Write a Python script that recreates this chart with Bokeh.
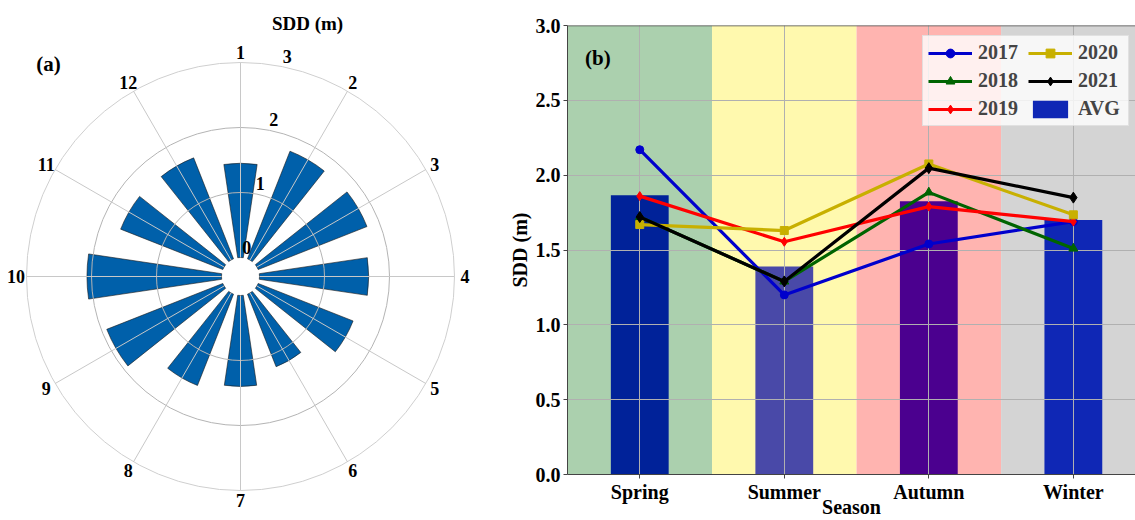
import numpy as np
from bokeh.plotting import figure
from bokeh.layouts import row
from bokeh.models import (Range1d, ColumnDataSource, FixedTicker, Legend,
                          LegendItem, Span)
from bokeh.core.properties import value
from bokeh.embed import file_html
from bokeh.resources import INLINE

# ---------------- data ----------------
months = ["1", "2", "3", "4", "5", "6", "7", "8", "9", "10", "11", "12"]
month_sdd = [1.45, 1.78, 1.80, 1.68, 1.57, 1.20, 1.40, 1.51, 1.92, 2.07, 1.69, 1.67]
r_ticks = [0, 1, 2, 3]
r_tick_labels = ["0", "1", "2", "3"]

seasons = ["Spring", "Summer", "Autumn", "Winter"]
season_colors = ["#abd0ae", "#fff9ae", "#ffb4b0", "#d4d4d4"]
avg_sdd = [1.865, 1.39, 1.825, 1.70]
avg_colors = ["#002299", "#4949a8", "#4b008f", "#0f27b5"]

years = ["2017", "2018", "2019", "2020", "2021"]
sdd_2017 = [2.17, 1.20, 1.54, 1.69]
sdd_2018 = [1.72, 1.29, 1.885, 1.51]
sdd_2019 = [1.86, 1.555, 1.79, 1.69]
sdd_2020 = [1.67, 1.63, 2.075, 1.735]
sdd_2021 = [1.72, 1.29, 2.047, 1.85]
year_series = [sdd_2017, sdd_2018, sdd_2019, sdd_2020, sdd_2021]
year_colors = ["#0000cc", "#006400", "#ff0000", "#c8b000", "#000000"]
year_markers = ["circle", "triangle", "diamond", "square", "diamond"]
year_msizes = [8, 9, 9, 8, 11]

y_ticks = [0.0, 0.5, 1.0, 1.5, 2.0, 2.5, 3.0]
y_tick_labels = ["0.0", "0.5", "1.0", "1.5", "2.0", "2.5", "3.0"]

FONT = "Liberation Serif"
H = 520

# ---------------- (a) polar bar chart ----------------
PX = 65.0            # pixels per radial unit
HOLE = 19.0 / PX     # radial origin offset
W1 = 486
cx, cy = 240.0, 276.0          # centre in pixels

p1 = figure(width=W1, height=H,
            x_range=Range1d(-cx / PX, (W1 - cx) / PX),
            y_range=Range1d(-(H - cy) / PX, cy / PX),
            output_backend="svg", toolbar_location=None,
            x_axis_location=None, y_axis_location=None, min_border=0)
p1.frame_align = False
p1.grid.visible = False
p1.outline_line_color = None
p1.background_fill_color = "white"

theta = np.pi / 2 - np.arange(len(months)) * 2 * np.pi / len(months)
half_w = 0.1475
src = ColumnDataSource(dict(start=theta - half_w, end=theta + half_w,
                            outer=HOLE + np.array(month_sdd)))
p1.annular_wedge(x=0, y=0, inner_radius=HOLE, outer_radius="outer",
                 start_angle="start", end_angle="end", source=src,
                 fill_color="#0060aa", line_color="#1a1a1a", line_width=0.6)

rmax = r_ticks[-1]
p1.circle(x=[0] * (len(r_ticks) - 1), y=[0] * (len(r_ticks) - 1),
          radius=[HOLE + r for r in r_ticks[1:]],
          fill_color=None, line_color=["#b4b4b4", "#b4b4b4", "#cfcfcf"],
          line_width=1)
p1.segment(x0=HOLE * np.cos(theta), y0=HOLE * np.sin(theta),
           x1=(HOLE + rmax) * np.cos(theta), y1=(HOLE + rmax) * np.sin(theta),
           line_color="#c8c8c8", line_width=1)

lab_r = HOLE + rmax + 0.16
p1.text(x=lab_r * np.cos(theta), y=lab_r * np.sin(theta), text=months,
        text_align="center", text_baseline="middle",
        text_font=value(FONT), text_font_style="bold", text_font_size="18px",
        text_color="black")

ang = np.deg2rad(78)
rr = np.array([HOLE + r + 0.17 for r in r_ticks])
p1.text(x=rr * np.cos(ang), y=rr * np.sin(ang), text=r_tick_labels,
        text_align="center", text_baseline="middle",
        text_font=value(FONT), text_font_style="bold", text_font_size="18px",
        text_color="black")

p1.text(x=[(307 - cx) / PX], y=[(cy - 23) / PX], text=["SDD (m)"],
        text_align="center", text_baseline="middle",
        text_font=value(FONT), text_font_style="bold", text_font_size="19px",
        text_color="black")
p1.text(x=[(48 - cx) / PX], y=[(cy - 63) / PX], text=["(a)"],
        text_align="center", text_baseline="middle",
        text_font=value(FONT), text_font_style="bold", text_font_size="21px",
        text_color="black")

# ---------------- (b) seasonal chart ----------------
W2 = 649
pos = list(range(len(seasons)))
p2 = figure(width=W2, height=H, x_range=Range1d(-0.5, 3.43),
            y_range=Range1d(0, y_ticks[-1]),
            output_backend="svg", toolbar_location=None,
            min_border_left=81, min_border_right=0, min_border_top=25,
            min_border_bottom=44)
p2.frame_align = False
p2.outline_line_color = None
p2.background_fill_color = "white"

p2.quad(left=[x - 0.5 for x in pos], right=[x + 0.5 for x in pos],
        bottom=0, top=y_ticks[-1], fill_color=season_colors, line_color=None,
        level="image")
bars = p2.vbar(x=pos, top=avg_sdd, width=0.4, fill_color=avg_colors,
               line_color=None, level="image")

items = []
for yr, ser, col, mk, ms in zip(years, year_series, year_colors,
                                year_markers, year_msizes):
    ln = p2.line(pos, ser, line_color=col, line_width=3.2)
    sc = p2.scatter(pos, ser, marker=mk, size=ms, fill_color=col,
                    line_color=col)
    items.append(LegendItem(label=yr, renderers=[ln, sc]))
items.append(LegendItem(label="AVG", renderers=[bars], index=3))

p2.add_layout(Span(location=y_ticks[-1], dimension="width",
                   line_color="#444444", line_width=1.5))

p2.xaxis.ticker = FixedTicker(ticks=pos)
p2.xaxis.major_label_overrides = {i: s for i, s in zip(pos, seasons)}
p2.yaxis.ticker = FixedTicker(ticks=y_ticks)
p2.yaxis.major_label_overrides = {v: s for v, s in zip(y_ticks, y_tick_labels)}
p2.xgrid.ticker = FixedTicker(ticks=pos)
p2.ygrid.ticker = FixedTicker(ticks=y_ticks)
p2.grid.grid_line_color = "#b0b0b0"
p2.grid.grid_line_width = 1

for ax in (p2.xaxis[0], p2.yaxis[0]):
    ax.axis_line_color = "#444444"
    ax.major_tick_line_color = "#444444"
    ax.major_tick_out = 4
    ax.major_tick_in = 0
    ax.minor_tick_line_color = None
    ax.major_label_text_font = FONT
    ax.major_label_text_font_style = "bold"
    ax.major_label_text_font_size = "20px"
    ax.major_label_text_color = "black"
    ax.axis_label_text_font = FONT
    ax.axis_label_text_font_style = "bold"
    ax.axis_label_text_font_size = "20px"
    ax.axis_label_text_color = "black"
p2.xaxis.axis_label = "Season"
p2.yaxis.axis_label = "SDD (m)"
p2.xaxis.major_label_standoff = 2
p2.xaxis.axis_label_standoff = -10
p2.yaxis.major_label_standoff = 3
p2.yaxis.axis_label_standoff = 2

p2.text(x=[-0.29], y=[2.78], text=["(b)"], text_align="center",
        text_baseline="middle", text_font=value(FONT),
        text_font_style="bold", text_font_size="21px")

legend = Legend(items=items, ncols=2, location=(355, 348),
                label_text_font=FONT, label_text_font_style="bold",
                label_text_font_size="20px", glyph_width=44,
                glyph_height=22, label_height=22, label_width=45,
                label_standoff=6, spacing=5, padding=5, margin=0,
                background_fill_color="white", background_fill_alpha=0.8,
                border_line_color="#cccccc", border_line_width=1)
p2.add_layout(legend)

layout = row(p1, p2)
open("out.html", "w").write(file_html(layout, INLINE))
